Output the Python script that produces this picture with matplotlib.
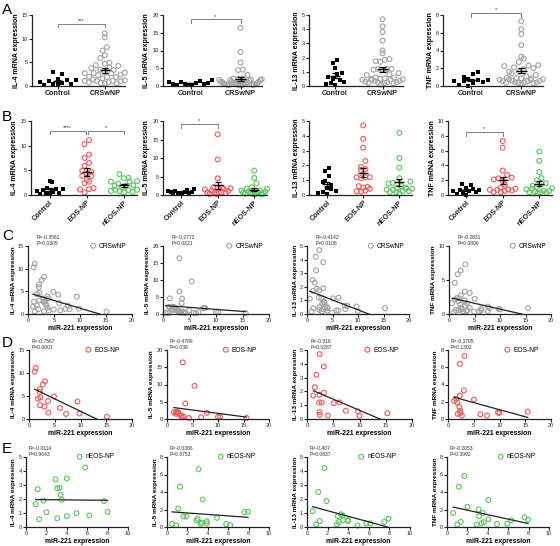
import numpy as np
import matplotlib
matplotlib.use('Agg')
import matplotlib.pyplot as plt

plt.rcParams['font.family'] = ['Liberation Sans', 'DejaVu Sans']

# control group (black squares)
ctrl_il4 = [2.9, 2.6, 1.5, 1.3, 1.2, 1.0, 0.9, 0.6, 0.5, 0.4, 0.3, 0.25]
ctrl_il5 = [1.6, 1.4, 1.2, 1.1, 0.9, 0.8, 0.7, 0.6, 0.5, 0.4, 0.4, 0.3]
ctrl_il13 = [1.8, 1.6, 1.3, 0.95, 0.85, 0.65, 0.5, 0.4, 0.3, 0.2, 0.15, 0.1]
ctrl_tnf = [1.55, 1.35, 1.0, 0.8, 0.7, 0.65, 0.6, 0.55, 0.45, 0.3, 0.1, 0.05]

# EOS-NP: miR-221 (x) and cytokine mRNA (y)
eos_il4_x = [1.1, 1.3, 3.1, 2.65, 2.1, 2.1, 1.75, 2.2, 4.85, 3.7, 9.4, 2.15, 3.0, 6.0, 3.75, 7.2, 9.8, 15.1]
eos_il4_y = [10.3, 11.1, 8.2, 7.5, 6.5, 5.9, 4.4, 4.7, 4.9, 3.9, 3.8, 3.0, 2.7, 2.4, 1.4, 1.1, 1.2, 0.5]
eos_il5_x = [3.1, 5.4, 3.6, 1.35, 1.8, 2.2, 2.5, 2.8, 3.25, 1.75, 4.3, 6.7, 7.8, 10.0, 10.4, 15.6, 2.9, 2.1]
eos_il5_y = [16.4, 9.6, 4.5, 1.9, 2.1, 2.0, 1.25, 1.05, 0.7, 1.5, 0.3, 0.5, 1.8, 0.6, 0.6, 0.3, 0.5, 1.7]
eos_il13_x = [2.4, 3.2, 1.8, 1.5, 1.2, 3.2, 2.4, 2.3, 2.8, 5.1, 6.2, 2.4, 2.4, 4.0, 7.4, 9.7, 10.0, 15.3]
eos_il13_y = [4.7, 3.8, 3.2, 2.3, 1.7, 1.9, 1.75, 1.2, 1.2, 1.15, 1.2, 0.5, 0.3, 0.25, 0.6, 0.55, 0.22, 0.42]
eos_tnf_x = [3.2, 2.3, 3.1, 5.05, 2.3, 1.2, 1.55, 1.8, 2.2, 2.4, 2.4, 2.7, 6.3, 7.6, 9.7, 10.0, 15.5, 1.9]
eos_tnf_y = [7.3, 6.4, 3.3, 2.25, 2.7, 2.1, 2.35, 1.9, 1.4, 0.95, 0.7, 0.4, 0.55, 0.4, 0.75, 0.7, 0.85, 0.6]

# nEOS-NP
neos_il4_x = [5.8, 4.0, 2.9, 3.3, 3.05, 1.15, 3.4, 3.5, 1.7, 0.95, 7.65, 2.0, 8.0, 4.95, 4.0, 6.2, 1.3, 3.05]
neos_il4_y = [4.25, 3.46, 3.4, 2.8, 2.76, 2.7, 2.3, 1.95, 1.9, 1.63, 1.85, 1.06, 1.08, 0.99, 0.77, 0.82, 0.55, 0.62]
neos_il5_x = [3.1, 1.27, 3.5, 1.1, 1.6, 1.9, 3.0, 2.9, 3.9, 3.9, 3.4, 4.9, 3.3, 0.5, 0.9, 5.8, 6.2, 7.6, 7.95]
neos_il5_y = [6.6, 4.6, 3.15, 2.1, 1.2, 1.2, 0.95, 0.75, 0.65, 0.4, 0.5, 1.05, 0.35, 0.35, 0.2, 0.35, 0.2, 1.7, 1.75]
neos_il13_x = [1.7, 1.1, 1.9, 0.55, 3.3, 3.45, 3.0, 1.25, 0.9, 3.1, 3.5, 4.0, 3.97, 4.9, 5.75, 6.15, 7.5, 7.9, 2.9]
neos_il13_y = [4.2, 2.5, 1.85, 1.13, 0.91, 0.82, 0.77, 0.43, 0.19, 0.36, 0.48, 0.43, 0.5, 0.1, 0.26, 0.26, 0.36, 0.6, 0.19]
neos_tnf_x = [1.7, 1.15, 4.05, 2.0, 3.1, 3.5, 0.6, 3.15, 4.05, 6.3, 7.6, 7.95, 1.35, 1.0, 2.9, 3.6, 3.4, 4.9, 5.9]
neos_tnf_y = [5.85, 4.6, 3.1, 2.3, 2.0, 1.6, 1.6, 1.23, 0.9, 0.77, 1.1, 0.85, 0.58, 0.3, 0.27, 0.55, 0.42, 0.35, 0.38]

cytokines = ['IL-4', 'IL-5', 'IL-13', 'TNF']
ylims = [15, 20, 5, 8]
ytick_steps = [5, 5, 1, 2]
ylims_b = [15, 20, 5, 10]
steps_b = [5, 5, 1, 2]
ylims_c = [15, 20, 5, 10]
steps_c = [5, 5, 1, 5]
ylims_e = [5, 8, 5, 8]
steps_e = [1, 2, 1, 2]

stats_c = ['R=-0.3561\nP=0.0305', 'R=-0.2772\nP=0.0821', 'R=-0.4142\nP=0.0108', 'R=-0.2831\nP=0.0896']
stats_d = ['R=-0.7567\nP=0.0001', 'R=-0.4789\nP=0.038', 'R=-0.516\nP=0.0287', 'R=-0.3705\nP=0.1302']
stats_e = ['R=-0.0114\nP=0.9643', 'R=-0.0386\nP=0.8753', 'R=-0.407\nP=0.0637', 'R=-0.2053\nP=0.3992']

GRAY = '#a3a3a3'
RED = '#ef5b5b'
GREEN = '#5cc45c'

ctrl = [ctrl_il4, ctrl_il5, ctrl_il13, ctrl_tnf]
eos_x = [eos_il4_x, eos_il5_x, eos_il13_x, eos_tnf_x]
eos_y = [eos_il4_y, eos_il5_y, eos_il13_y, eos_tnf_y]
neos_x = [neos_il4_x, neos_il5_x, neos_il13_x, neos_tnf_x]
neos_y = [neos_il4_y, neos_il5_y, neos_il13_y, neos_tnf_y]

W, H = 560, 546
fig = plt.figure(figsize=(W / 100, H / 100), dpi=100)


def add_ax(l, r, t, b):
    return fig.add_axes([l / W, 1 - b / H, (r - l) / W, (b - t) / H])


def style(ax):
    for s in ['top', 'right']:
        ax.spines[s].set_visible(False)
    for s in ['left', 'bottom']:
        ax.spines[s].set_linewidth(0.9)
        ax.spines[s].set_color('#222222')
    ax.tick_params(length=2, width=0.8, labelsize=4.0, pad=1, colors='#222222')


def spread(vals, ytop, h_px, px_unit, maxw, binh=7.0, gap=4.5):
    # Prism-like scatter: points in the same height band are set side by side
    vals = np.asarray(vals, float)
    band = np.floor(vals / ytop * h_px / binh).astype(int)
    offs = np.zeros(len(vals))
    for bnd in np.unique(band):
        idx = np.where(band == bnd)[0]
        idx = idx[np.argsort(vals[idx])]
        n = len(idx)
        if n == 1:
            continue
        g = min(gap, maxw / (n - 1))
        slots = (np.arange(n) - (n - 1) / 2) * g
        # alternate outward from the centre so it does not look sorted
        order = np.argsort(np.abs(slots) + 0.01 * np.arange(n))
        mixed = list(range(0, n, 2)) + list(range(1, n, 2))
        for k, m in zip(order, mixed):
            offs[idx[m]] = slots[k]
    return offs / px_unit


def dot_panel(ax, groups, colors, ytop, step, ylabel, px_unit, h_px, hw, maxw):
    for i, (vals, col) in enumerate(zip(groups, colors)):
        vals = np.asarray(vals, float)
        off = spread(vals, ytop, h_px, px_unit, maxw)
        if col == 'ctrl':
            ax.scatter(i + off, vals, marker='s', s=9, c='black', linewidths=0, clip_on=False)
        else:
            ax.scatter(i + off, vals, marker='o', s=12, facecolors='none', edgecolors=col,
                       linewidths=0.8, clip_on=False)
        m = vals.mean()
        se = vals.std(ddof=1) / np.sqrt(len(vals))
        ax.hlines(m, i - hw, i + hw, color='black', lw=1.0, zorder=4)
        ax.hlines([m - se, m + se], i - hw * 0.6, i + hw * 0.6, color='black', lw=0.9, zorder=4)
        ax.vlines(i, m - se, m + se, color='black', lw=0.9, zorder=4)
    ax.set_ylim(0, ytop)
    ax.set_yticks(np.arange(0, ytop + 0.01, step))
    ax.set_ylabel(ylabel, fontsize=5.0, fontweight='bold', labelpad=1.5)
    ax.set_xticks(range(len(groups)))
    style(ax)


def bracket(ax, x0, x1, y, h, txt):
    ax.plot([x0, x0, x1, x1], [y - h, y, y, y - h], color='#808080', lw=0.7, clip_on=False)
    ax.text((x0 + x1) / 2, y + h * 0.2, txt, ha='center', va='bottom', fontsize=4.2, color='#333333')


def corr_panel(ax, x, y, color, label, ytop, step, xmax, xstep, ylabel, stat, sx, legx):
    ax.scatter(x, y, s=12, facecolors='none', edgecolors=color, linewidths=0.8, clip_on=False, label=label)
    k, b = np.polyfit(x, y, 1)
    xx = np.array([min(x), max(x)])
    ax.plot(xx, k * xx + b, color='#222222', lw=0.9)
    ax.set_xlim(0, xmax)
    ax.set_ylim(0, ytop)
    ax.set_xticks(np.arange(0, xmax + 0.01, xstep))
    ax.set_yticks(np.arange(0, ytop + 0.01, step))
    ax.set_ylabel(ylabel, fontsize=4.6, fontweight='bold', labelpad=1.5)
    ax.set_xlabel('miR-221 expression', fontsize=4.9, fontweight='bold', labelpad=1.5)
    ax.text(sx, 1.0, stat, transform=ax.transAxes, fontsize=3.6, va='bottom', ha='left',
            linespacing=1.3, color='#333333')
    ax.legend(loc='center left', bbox_to_anchor=(legx, 1.0), frameon=False, fontsize=4.8,
              handlelength=0.8, handletextpad=0.5, borderpad=0, borderaxespad=0)
    style(ax)


# ---- row A ----
rowA = [(32, 125), (163, 262), (309, 403), (443, 543)]
sigA = {0: ('***', 13.1, 0.6), 1: ('*', 18.8, 1.0), 3: ('*', 8.2, 0.4)}
for j, (l, r) in enumerate(rowA):
    ax = add_ax(l, r, 15, 86)
    crs = list(eos_y[j]) + list(neos_y[j])
    dot_panel(ax, [ctrl[j], crs], ['ctrl', GRAY], ylims[j], ytick_steps[j],
              cytokines[j] + ' mRNA expression', 47, 71, 0.11, 40)
    ax.set_xlim(-0.55, 1.43)
    ax.set_xticklabels(['Control', 'CRSwNP'], fontsize=5.2, fontweight='bold')
    if j in sigA:
        t, yv, h = sigA[j]
        bracket(ax, 0, 1, yv, h, t)

# ---- row B ----
rowB = [(31, 137), (163, 267), (309, 412), (448, 552)]
for j, (l, r) in enumerate(rowB):
    ax = add_ax(l, r, 121, 195)
    dot_panel(ax, [ctrl[j], eos_y[j], neos_y[j]], ['ctrl', RED, GREEN], ylims_b[j],
              steps_b[j], cytokines[j] + ' mRNA expression', 37, 74, 0.14, 26)
    ax.set_xlim(-0.5, 2.35)
    ax.set_xticklabels(['Control', 'EOS-NP', 'nEOS-NP'], fontsize=5.2, fontweight='bold',
                       rotation=45, ha='right', rotation_mode='anchor')
    if j == 0:
        bracket(ax, 0, 0.98, 13.0, 0.6, '****')
        bracket(ax, 1.02, 2, 13.0, 0.6, '*')
    elif j == 1:
        bracket(ax, 0, 1, 19.3, 1.2, '*')
    elif j == 3:
        bracket(ax, 0, 1, 8.5, 0.5, '*')

# ---- rows C, D, E ----
rowC = [(28, 132), (163, 269), (307, 409), (449, 551)]
rowD = [(29, 132), (167, 269), (307, 412), (448, 551)]
rowE = [(26, 128), (167, 269), (307, 410), (447, 549)]
for j in range(4):
    l, r = rowC[j]
    ax = add_ax(l, r, 246, 314)
    cx = list(eos_x[j]) + list(neos_x[j])
    cy = list(eos_y[j]) + list(neos_y[j])
    corr_panel(ax, cx, cy, GRAY, 'CRSwNP', ylims_c[j], steps_c[j], 20, 5,
               cytokines[j] + ' mRNA expression', stats_c[j], 0.08, 0.6)

    l, r = rowD[j]
    ax = add_ax(l, r, 350, 419)
    corr_panel(ax, eos_x[j], eos_y[j], RED, 'EOS-NP', ylims[j], ytick_steps[j], 20, 5,
               cytokines[j] + ' mRNA expression', stats_d[j], 0.03, 0.55)

    l, r = rowE[j]
    ax = add_ax(l, r, 457, 527)
    corr_panel(ax, neos_x[j], neos_y[j], GREEN, 'nEOS-NP', ylims_e[j], steps_e[j], 10, 2,
               cytokines[j] + ' mRNA expression', stats_e[j], 0.03, 0.5)

for letter, yp in [('A', 10), ('B', 117), ('C', 236), ('D', 343), ('E', 449)]:
    fig.text(2 / W, 1 - yp / H, letter, fontsize=11, va='center', ha='left')

fig.savefig('out.png', dpi=100)
